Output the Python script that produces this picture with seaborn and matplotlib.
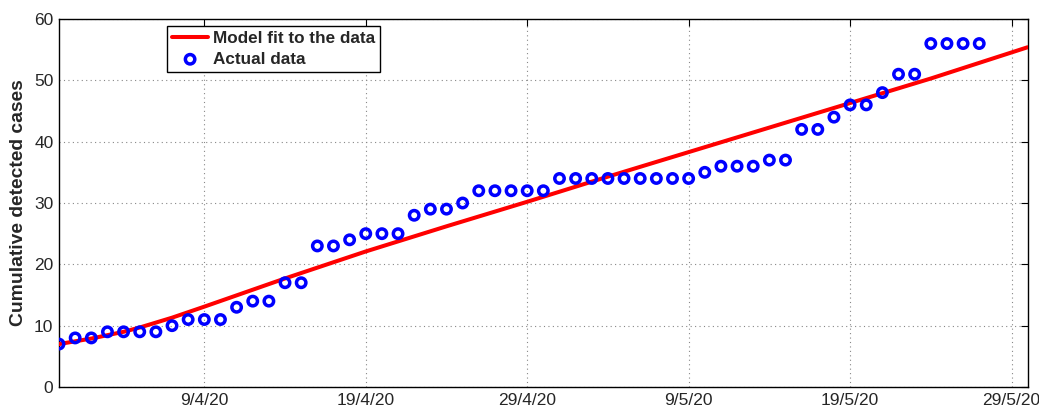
import numpy as np
import pandas as pd
import matplotlib
matplotlib.use("Agg")
import matplotlib.pyplot as plt
import seaborn as sns

# ---- data ----
data_start = "2020-03-31"
actual_cases = [7,
                8, 8, 9, 9, 9, 9, 10, 11, 11, 11, 13, 14, 14, 17, 17, 23, 23, 24, 25,
                25, 25, 28, 29, 29, 30, 32, 32, 32, 32, 32,
                34, 34, 34, 34, 34, 34, 34, 34, 34, 35, 36, 36, 36, 37, 37, 42, 42,
                44, 46, 46, 48, 51, 51, 56, 56, 56, 56]
actual_dates = pd.date_range(data_start, periods=len(actual_cases), freq="D")

model_dates = pd.to_datetime(["2020-03-31", "2020-04-02", "2020-04-04", "2020-04-05",
                              "2020-04-06", "2020-04-07", "2020-04-09", "2020-04-14",
                              "2020-04-19", "2020-04-24", "2020-04-29", "2020-05-04",
                              "2020-05-09", "2020-05-14", "2020-05-19", "2020-05-24",
                              "2020-05-30"])
model_values = [7.0, 7.9, 9.0, 9.7, 10.5, 11.3, 13.1, 17.7, 22.1, 26.2, 30.2, 34.3,
                38.3, 42.3, 46.3, 50.3, 55.4]

xtick_dates = pd.to_datetime(["2020-04-09", "2020-04-19", "2020-04-29",
                              "2020-05-09", "2020-05-19", "2020-05-29"])
xtick_labels = ["9/4/20", "19/4/20", "29/4/20", "9/5/20", "19/5/20", "29/5/20"]
ytick_values = [0, 10, 20, 30, 40, 50, 60]

line_label = "Model fit to the data"
points_label = "Actual data"
y_label = "Cumulative detected cases"

# ---- style ----
sns.set_style("white")
plt.rcParams["font.family"] = ["Liberation Sans", "DejaVu Sans"]

fig = plt.figure(figsize=(10.39, 4.09), dpi=100)
ax = fig.add_axes([0.0568, 0.0538, 0.9323, 0.8997])

sns.lineplot(x=model_dates, y=model_values, ax=ax, color="#ff0000", linewidth=2.9,
             label=line_label, zorder=3)
sns.scatterplot(x=actual_dates, y=actual_cases, ax=ax, marker="o", s=46,
                facecolors="none", edgecolor="#0000ff", linewidth=2.5,
                label=points_label, zorder=4)

ax.set_xlim(pd.Timestamp("2020-03-31"), pd.Timestamp("2020-05-30"))
ax.set_ylim(0, 60)
ax.set_xticks(xtick_dates, labels=xtick_labels)
ax.set_yticks(ytick_values)
ax.tick_params(axis="both", which="both", direction="in", top=True, right=True,
               length=5, width=0.8, color="black", labelsize=12.5, pad=4)
ax.grid(True, linestyle=(0, (1, 3)), color="#888888", linewidth=0.8)
for sp in ax.spines.values():
    sp.set_color("black")
    sp.set_linewidth(1.0)

ax.set_xlabel("")
ax.set_ylabel(y_label, fontsize=13.9, fontweight="bold", labelpad=5)

leg = ax.legend(loc="upper left", bbox_to_anchor=(0.1115, 0.982), borderaxespad=0,
                frameon=True, fancybox=False, edgecolor="black", framealpha=1,
                prop={"weight": "bold", "size": 12.3}, handlelength=2.1,
                handletextpad=0.3, labelspacing=0.35, borderpad=0.3)
leg.get_frame().set_linewidth(1.0)

fig.savefig("out.png", dpi=100)
